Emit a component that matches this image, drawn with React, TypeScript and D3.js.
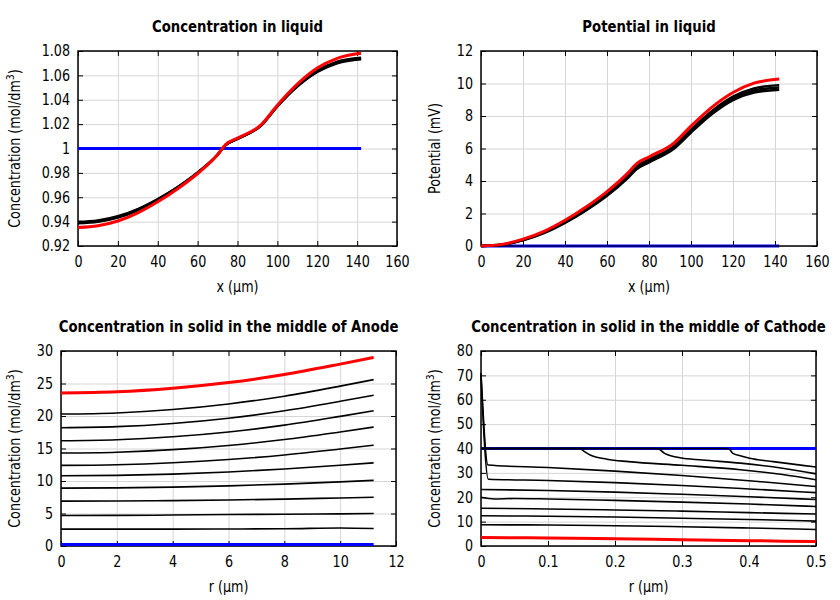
import { useEffect, useRef } from "react";
import * as d3 from "d3";

type Pt = [number, number];

// ---------- Concentration in liquid (mol/dm3) vs x (µm) ----------
const liqX = [0, 10, 20, 30, 40, 50, 60, 70, 74, 80, 92, 100, 110, 120, 130, 142];
const liqConcInitX = [0, 142];
const liqConcInit = [1, 1];
const liqConcTimes = [
  [0.9398, 0.941, 0.9444, 0.9503, 0.9585, 0.9684, 0.9803, 0.995, 1.0028, 1.0078, 1.019, 1.0345, 1.0508, 1.0628, 1.07, 1.0733],
  [0.9392, 0.9404, 0.9439, 0.9498, 0.9581, 0.9681, 0.9801, 0.9949, 1.0028, 1.0079, 1.0192, 1.0348, 1.0512, 1.0633, 1.0706, 1.0739],
  [0.9386, 0.9398, 0.9433, 0.9493, 0.9577, 0.9678, 0.9799, 0.9948, 1.0028, 1.008, 1.0194, 1.0351, 1.0516, 1.0638, 1.0712, 1.0745],
];
const liqConcEnd = [0.9352, 0.9366, 0.9405, 0.9472, 0.9563, 0.967, 0.9795, 0.9948, 1.0032, 1.0085, 1.0197, 1.0355, 1.0528, 1.066, 1.074, 1.0781];

// ---------- Potential in liquid (mV) vs x (µm) ----------
const potInitX = [0, 142];
const potInit = [0, 0];
const potTimes = [
  [0, 0, 0, 0, 0, 0, 0, 0, 0, 0, 0, 0, 0, 0, 0, 0],
  [0, 0.08, 0.35, 0.79, 1.42, 2.19, 3.09, 4.2, 4.72, 5.15, 6.0, 6.98, 8.12, 8.98, 9.45, 9.62],
  [0, 0.085, 0.37, 0.82, 1.46, 2.24, 3.15, 4.27, 4.8, 5.23, 6.08, 7.07, 8.22, 9.08, 9.57, 9.75],
  [0, 0.09, 0.39, 0.85, 1.5, 2.29, 3.21, 4.34, 4.88, 5.31, 6.16, 7.16, 8.31, 9.19, 9.7, 9.9],
];
const potEnd = [0, 0.1, 0.42, 0.9, 1.58, 2.4, 3.35, 4.5, 5.06, 5.48, 6.35, 7.38, 8.55, 9.45, 10.02, 10.27];

// ---------- Concentration in solid, middle of anode ----------
const anodeR = [0, 2, 4, 6, 8, 10, 11.2];
const anodeInit = [0.25, 0.25, 0.25, 0.25, 0.25, 0.25, 0.25];
const anodeTimes = [
  [2.6, 2.6, 2.6, 2.62, 2.65, 2.78, 2.7],
  [4.7, 4.71, 4.76, 4.85, 4.88, 4.95, 5.0],
  [6.9, 6.92, 6.98, 7.08, 7.21, 7.39, 7.5],
  [8.9, 8.94, 9.06, 9.25, 9.52, 9.87, 10.1],
  [10.8, 10.86, 11.06, 11.38, 11.84, 12.42, 12.8],
  [12.4, 12.5, 12.8, 13.3, 14.01, 14.92, 15.5],
  [14.3, 14.43, 14.82, 15.47, 16.38, 17.55, 18.3],
  [16.2, 16.35, 16.8, 17.54, 18.59, 19.94, 20.8],
  [18.2, 18.36, 18.85, 19.66, 20.8, 22.26, 23.2],
  [20.3, 20.47, 20.99, 21.85, 23.05, 24.6, 25.6],
];
const anodeEnd = [23.55, 23.72, 24.26, 25.14, 26.38, 27.98, 29.0];

// ---------- Concentration in solid, middle of cathode ----------
const cathodeInit: Pt[] = [[0, 40], [0.5, 40]];
const cathodeTimes: Pt[][] = [
  [[0, 40], [0.369, 40], [0.376, 38.0], [0.387, 37.0], [0.401, 36.0], [0.436, 34.6], [0.5, 32.4]],
  [[0, 40], [0.263, 40], [0.274, 38.0], [0.297, 36.2], [0.33, 35.3], [0.387, 34.0], [0.45, 31.9], [0.5, 29.6]],
  [[0, 40], [0.147, 40], [0.155, 38.6], [0.163, 37.3], [0.188, 35.6], [0.22, 34.6], [0.3, 33.1], [0.387, 31.3], [0.45, 29.3], [0.5, 27.2]],
  [[0, 71], [0.0105, 33.2], [0.1, 32.2], [0.2, 30.7], [0.3, 28.9], [0.4, 26.8], [0.5, 24.4]],
  [[0, 70], [0.011, 27.4], [0.1, 26.9], [0.2, 26.0], [0.3, 24.8], [0.4, 23.4], [0.5, 21.9]],
  [[0, 23.2], [0.1, 22.8], [0.2, 22.1], [0.3, 21.2], [0.4, 20.2], [0.5, 19.1]],
  [[0, 20.0], [0.02, 19.3], [0.05, 19.5], [0.1, 19.3], [0.2, 18.7], [0.3, 18.0], [0.4, 17.2], [0.5, 16.2]],
  [[0, 15.5], [0.1, 15.2], [0.2, 14.8], [0.3, 14.3], [0.4, 13.7], [0.5, 13.1]],
  [[0, 12.4], [0.1, 12.2], [0.2, 11.9], [0.3, 11.4], [0.4, 10.9], [0.5, 10.2]],
  [[0, 8.7], [0.1, 8.6], [0.2, 8.3], [0.3, 7.9], [0.4, 7.4], [0.5, 6.8]],
];
const cathodeEnd: Pt[] = [[0, 3.45], [0.1, 3.3], [0.2, 3.0], [0.3, 2.6], [0.4, 2.2], [0.5, 1.8]];

// ---------- ticks ----------
const liqXTicks = [0, 20, 40, 60, 80, 100, 120, 140, 160];
const concYTicks = [0.92, 0.94, 0.96, 0.98, 1, 1.02, 1.04, 1.06, 1.08];
const potYTicks = [0, 2, 4, 6, 8, 10, 12];
const anodeXTicks = [0, 2, 4, 6, 8, 10, 12];
const anodeYTicks = [0, 5, 10, 15, 20, 25, 30];
const cathodeXTicks = [0, 0.1, 0.2, 0.3, 0.4, 0.5];
const cathodeYTicks = [0, 10, 20, 30, 40, 50, 60, 70, 80];

const FONT = "DejaVu Sans";
const SX = 0.85; // text looks horizontally squeezed in the reference
const SX_TITLE = 0.885;
const GRID = "#d6d6d6";
const RED = "#ff0000";
const BLUE = "#0000ff";

const zip = (xs: number[], ys: number[]): Pt[] => xs.map((x, i) => [x, ys[i]]);

interface Line {
  pts: Pt[];
  color: string;
  width: number;
}

interface Panel {
  title: string;
  xLabel: string;
  yLabel: string;
  ySup?: string;
  box: { left: number; top: number; width: number; height: number };
  yLabelX: number;
  xDomain: [number, number];
  yDomain: [number, number];
  xTicks: number[];
  yTicks: number[];
  lines: Line[];
}

const blackTop = 2.5;
const blackBottom = 1.6;

const panels: Panel[] = [
  {
    title: "Concentration in liquid",
    xLabel: "x (µm)",
    yLabel: "Concentration (mol/dm",
    ySup: "3",
    box: { left: 78, top: 51, width: 319, height: 195 },
    yLabelX: 20,
    xDomain: [0, 160],
    yDomain: [0.92, 1.08],
    xTicks: liqXTicks,
    yTicks: concYTicks,
    lines: [
      { pts: zip(liqConcInitX, liqConcInit), color: BLUE, width: 3 },
      ...liqConcTimes.map(v => ({ pts: zip(liqX, v), color: "#000", width: blackTop })),
      { pts: zip(liqX, liqConcEnd), color: RED, width: 3 },
    ],
  },
  {
    title: "Potential in liquid",
    xLabel: "x (µm)",
    yLabel: "Potential (mV)",
    box: { left: 481, top: 51, width: 336, height: 195 },
    yLabelX: 440,
    xDomain: [0, 160],
    yDomain: [0, 12],
    xTicks: liqXTicks,
    yTicks: potYTicks,
    lines: [
      { pts: zip(potInitX, potInit), color: BLUE, width: 3 },
      ...potTimes.map((v, i) => ({ pts: zip(liqX, v), color: "#000", width: i === 0 ? 1.2 : blackTop })),
      { pts: zip(liqX, potEnd), color: RED, width: 3 },
    ],
  },
  {
    title: "Concentration in solid in the middle of Anode",
    xLabel: "r (µm)",
    yLabel: "Concentration (mol/dm",
    ySup: "3",
    box: { left: 61, top: 351, width: 335, height: 195 },
    yLabelX: 20,
    xDomain: [0, 12],
    yDomain: [0, 30],
    xTicks: anodeXTicks,
    yTicks: anodeYTicks,
    lines: [
      { pts: zip(anodeR, anodeInit), color: BLUE, width: 3 },
      ...anodeTimes.map(v => ({ pts: zip(anodeR, v), color: "#000", width: blackBottom })),
      { pts: zip(anodeR, anodeEnd), color: RED, width: 3 },
    ],
  },
  {
    title: "Concentration in solid in the middle of Cathode",
    xLabel: "r (µm)",
    yLabel: "Concentration (mol/dm",
    ySup: "3",
    box: { left: 481, top: 351, width: 335, height: 195 },
    yLabelX: 440,
    xDomain: [0, 0.5],
    yDomain: [0, 80],
    xTicks: cathodeXTicks,
    yTicks: cathodeYTicks,
    lines: [
      { pts: cathodeInit, color: BLUE, width: 3 },
      ...cathodeTimes.map(pts => ({ pts, color: "#000", width: blackBottom })),
      { pts: cathodeEnd, color: RED, width: 3 },
    ],
  },
];

function drawPanel(svg: d3.Selection<SVGSVGElement, unknown, null, undefined>, p: Panel) {
  const { left, top, width, height } = p.box;
  const bottom = top + height;
  const x = d3.scaleLinear().domain(p.xDomain).range([left, left + width]);
  const y = d3.scaleLinear().domain(p.yDomain).range([bottom, top]);
  const fmt = d3.format("~g");
  const g = svg.append("g");

  // grid
  g.append("g")
    .attr("transform", `translate(0,${bottom})`)
    .call(d3.axisBottom(x).tickValues(p.xTicks).tickSize(-height).tickFormat(() => ""))
    .call(a => a.select(".domain").remove())
    .selectAll("line")
    .attr("stroke", GRID);
  g.append("g")
    .attr("transform", `translate(${left},0)`)
    .call(d3.axisLeft(y).tickValues(p.yTicks).tickSize(-width).tickFormat(() => ""))
    .call(a => a.select(".domain").remove())
    .selectAll("line")
    .attr("stroke", GRID);

  // frame
  g.append("rect")
    .attr("x", left)
    .attr("y", top)
    .attr("width", width)
    .attr("height", height)
    .attr("fill", "none")
    .attr("stroke", "#000")
    .attr("stroke-width", 1.5);

  // inward ticks on all four sides
  const xb = g.append("g")
    .attr("transform", `translate(0,${bottom})`)
    .call(d3.axisBottom(x).tickValues(p.xTicks).tickSizeInner(-5).tickSizeOuter(0).tickPadding(10.4).tickFormat(d => fmt(+d)));
  const yl = g.append("g")
    .attr("transform", `translate(${left},0)`)
    .call(d3.axisLeft(y).tickValues(p.yTicks).tickSizeInner(-5).tickSizeOuter(0).tickPadding(8 / SX).tickFormat(d => fmt(+d)));
  g.append("g")
    .attr("transform", `translate(0,${top})`)
    .call(d3.axisTop(x).tickValues(p.xTicks).tickSizeInner(-5).tickSizeOuter(0).tickFormat(() => ""));
  g.append("g")
    .attr("transform", `translate(${left + width},0)`)
    .call(d3.axisRight(y).tickValues(p.yTicks).tickSizeInner(-5).tickSizeOuter(0).tickFormat(() => ""));
  g.selectAll(".domain").remove();
  g.selectAll(".tick line").filter(function () {
    return d3.select(this).attr("stroke") !== GRID;
  }).attr("stroke", "#000");

  [xb, yl].forEach(a =>
    a.selectAll("text")
      .attr("font-family", FONT)
      .attr("font-size", 15)
      .attr("fill", "#000")
      .attr("transform", `scale(${SX},1)`)
  );

  // series
  const line = d3.line<Pt>()
    .x(d => x(d[0]))
    .y(d => y(d[1]))
    .curve(d3.curveMonotoneX);
  p.lines.forEach(l => {
    g.append("path")
      .attr("d", line(l.pts))
      .attr("fill", "none")
      .attr("stroke", l.color)
      .attr("stroke-width", l.width)
      .attr("stroke-linejoin", "round");
  });

  const cx = left + width / 2;

  // title
  g.append("text")
    .attr("transform", `translate(${cx},${top - 19}) scale(${SX_TITLE},1)`)
    .attr("text-anchor", "middle")
    .attr("font-family", FONT)
    .attr("font-size", 15)
    .attr("font-weight", "bold")
    .text(p.title);

  // x label
  g.append("text")
    .attr("transform", `translate(${cx},${bottom + 46}) scale(${SX},1)`)
    .attr("text-anchor", "middle")
    .attr("font-family", FONT)
    .attr("font-size", 15)
    .text(p.xLabel);

  // y label
  const yt = g.append("text")
    .attr("transform", `translate(${p.yLabelX},${top + height / 2}) rotate(-90) scale(${SX},1)`)
    .attr("text-anchor", "middle")
    .attr("font-family", FONT)
    .attr("font-size", 15);
  yt.append("tspan").text(p.yLabel);
  if (p.ySup) {
    yt.append("tspan").attr("dy", -6).attr("font-size", 11).text(p.ySup);
    yt.append("tspan").attr("dy", 6).text(")");
  }
}

export default function App() {
  const ref = useRef<SVGSVGElement>(null);

  useEffect(() => {
    const svg = d3.select(ref.current!);
    svg.selectAll("*").remove();
    svg.append("rect").attr("width", 840).attr("height", 600).attr("fill", "#fff");
    panels.forEach(p => drawPanel(svg, p));
  }, []);

  return (
    <svg
      ref={ref}
      width={840}
      height={600}
      style={{ position: "absolute", left: 0, top: 0, display: "block" }}
    />
  );
}
